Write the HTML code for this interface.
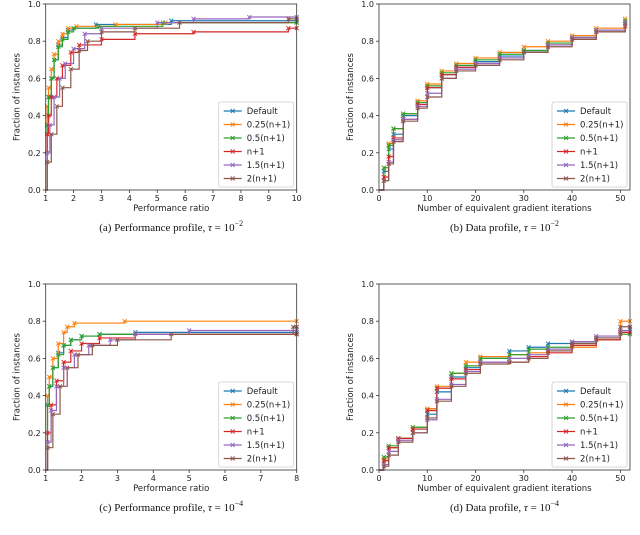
<!DOCTYPE html>
<html><head><meta charset="utf-8"><style>
body{margin:0;background:#fff;}
svg{display:block;font-family:"DejaVu Sans","Liberation Sans",sans-serif;}
.cap{font-family:"Liberation Serif",serif;font-size:11px;}
</style></head><body>
<svg id="s" width="640" height="535" viewBox="0 0 640 535"></svg>
<script>
const colors=["#1f77b4","#ff7f0e","#2ca02c","#d62728","#9467bd","#8c564b"];
const seriesNames=["Default","0.25(n+1)","0.5(n+1)","n+1","1.5(n+1)","2(n+1)"];
// Panel a: performance profile tau=1e-2 (x ratio, y fraction)
const aX=[[1,1.05,1.1,1.2,1.3,1.45,1.6,1.8,2,2.8,5.5,10],[1,1.05,1.1,1.2,1.3,1.45,1.6,1.8,2.1,3.5,5.3,10],[1,1.05,1.1,1.2,1.3,1.45,1.6,1.8,2,2.9,5.2,10],[1,1.05,1.1,1.2,1.4,1.6,1.9,2.2,3,4.2,6.3,9.7,10],[1,1.05,1.15,1.3,1.5,1.7,2,2.4,3,5,6.3,8.3,10],[1,1.05,1.2,1.4,1.6,1.9,2.2,2.5,3,4.2,5.8,9.7,10]];
const aY=[[0,0.35,0.5,0.6,0.7,0.78,0.82,0.86,0.87,0.89,0.91,0.91],[0,0.45,0.55,0.65,0.73,0.8,0.84,0.87,0.88,0.89,0.9,0.9],[0,0.35,0.5,0.6,0.7,0.77,0.81,0.85,0.87,0.88,0.9,0.9],[0,0.3,0.4,0.5,0.6,0.67,0.74,0.78,0.81,0.84,0.85,0.87,0.87],[0,0.2,0.35,0.5,0.6,0.68,0.76,0.84,0.87,0.9,0.92,0.93,0.93],[0,0.15,0.3,0.45,0.55,0.65,0.75,0.8,0.85,0.87,0.9,0.92,0.92]];
// Panel b: data profile tau=1e-2
const bX=[[0,1,2,3,5,8,10,13,16,20,25,30,35,40,45,51],[0,1,2,3,5,8,10,13,16,20,25,30,35,40,45,51],[0,1,2,3,5,8,10,13,16,20,25,30,35,40,45,51],[0,1,2,3,5,8,10,13,16,20,25,30,35,40,45,51],[0,1,2,3,5,8,10,13,16,20,25,30,35,40,45,51],[0,1,2,3,5,8,10,13,16,20,25,30,35,40,45,51]];
const bY=[[0,0.1,0.22,0.3,0.4,0.47,0.55,0.62,0.66,0.69,0.72,0.75,0.78,0.82,0.86,0.9],[0,0.12,0.25,0.33,0.41,0.48,0.57,0.64,0.68,0.71,0.74,0.77,0.8,0.83,0.87,0.92],[0,0.12,0.24,0.33,0.41,0.47,0.56,0.63,0.67,0.7,0.73,0.75,0.79,0.82,0.86,0.91],[0,0.07,0.18,0.28,0.38,0.46,0.55,0.62,0.66,0.68,0.71,0.74,0.78,0.81,0.85,0.88],[0,0.05,0.15,0.27,0.38,0.45,0.52,0.6,0.65,0.68,0.71,0.74,0.78,0.82,0.86,0.9],[0,0.05,0.14,0.26,0.37,0.44,0.5,0.6,0.64,0.67,0.7,0.74,0.77,0.81,0.85,0.89]];
// Panel c: performance profile tau=1e-4
const cX=[[1,1.05,1.1,1.2,1.35,1.5,1.7,2,2.5,3.5,8],[1,1.05,1.1,1.2,1.35,1.5,1.6,1.8,3.2,8],[1,1.05,1.1,1.2,1.35,1.5,1.7,2,2.5,8],[1,1.05,1.15,1.3,1.5,1.7,2,2.5,3.5,8],[1,1.05,1.15,1.3,1.5,1.8,2.2,2.8,3.5,5,8],[1,1.05,1.2,1.4,1.6,1.9,2.3,3,4.5,7.9,8]];
const cY=[[0,0.35,0.45,0.55,0.63,0.67,0.7,0.72,0.73,0.74,0.74],[0,0.4,0.5,0.6,0.68,0.74,0.77,0.79,0.8,0.8],[0,0.35,0.45,0.55,0.62,0.67,0.7,0.72,0.73,0.73],[0,0.2,0.35,0.48,0.58,0.64,0.68,0.71,0.73,0.73],[0,0.15,0.32,0.45,0.55,0.62,0.67,0.7,0.73,0.75,0.76],[0,0.12,0.3,0.45,0.55,0.62,0.67,0.7,0.73,0.77,0.77]];
// Panel d: data profile tau=1e-4
const dX=[[0,1,2,4,7,10,12,15,18,21,27,31,35,40,45,50,52],[0,1,2,4,7,10,12,15,18,21,27,31,35,40,45,50,52],[0,1,2,4,7,10,12,15,18,21,27,31,35,40,45,50,52],[0,1,2,4,7,10,12,15,18,21,27,31,35,40,45,50,52],[0,1,2,4,7,10,12,15,18,21,27,31,35,40,45,50,52],[0,1,2,4,7,10,12,15,18,21,27,31,35,40,45,50,52]];
const dY=[[0,0.05,0.12,0.17,0.22,0.3,0.42,0.5,0.55,0.6,0.64,0.66,0.68,0.69,0.71,0.74,0.76],[0,0.06,0.12,0.17,0.23,0.33,0.45,0.52,0.58,0.61,0.62,0.63,0.64,0.66,0.7,0.8,0.8],[0,0.07,0.13,0.17,0.23,0.32,0.44,0.52,0.56,0.6,0.62,0.65,0.66,0.68,0.7,0.73,0.73],[0,0.05,0.12,0.17,0.22,0.32,0.44,0.49,0.54,0.58,0.58,0.61,0.63,0.67,0.7,0.74,0.74],[0,0.03,0.1,0.16,0.2,0.27,0.38,0.46,0.53,0.58,0.6,0.62,0.65,0.69,0.72,0.75,0.77],[0,0.02,0.08,0.15,0.2,0.28,0.37,0.45,0.52,0.57,0.58,0.6,0.64,0.68,0.71,0.77,0.77]];
const yTicks=["0.0","0.2","0.4","0.6","0.8","1.0"];
const aTicks=[1,2,3,4,5,6,7,8,9,10];
const cTicks=[1,2,3,4,5,6,7,8];
const dTicks=[0,10,20,30,40,50];

const NS="http://www.w3.org/2000/svg";
const svg=document.getElementById('s');
function mk(t,a,p){const e=document.createElementNS(NS,t);for(const k in a)e.setAttribute(k,a[k]);(p||svg).appendChild(e);return e;}
function txt(s,a,p){const e=mk('text',a,p);e.textContent=s;return e;}

function panel(key,L,R,T,B,xmin,xmax,xt,xs,ys,xlabel,caption){
  const g=mk('g',{});
  
  
  const sx=v=>L+(v-xmin)/(xmax-xmin)*(R-L);
  const sy=v=>B-v*(B-T);
  xs.forEach((X,i)=>{
    const Y=ys[i];
    let d='M'+sx(X[0])+','+sy(Y[0]);
    for(let j=1;j<X.length;j++){d+=' H'+sx(X[j])+' V'+sy(Y[j]);}
    const p=mk('path',{d:d,fill:'none',stroke:colors[i],'stroke-width':1.2},g);
    
    
    for(let j=1;j<X.length;j++){
      const cx=sx(X[j]),cy=sy(Y[j]);
      const m=mk('path',{d:`M${cx-2},${cy-2}L${cx+2},${cy+2}M${cx-2},${cy+2}L${cx+2},${cy-2}`,stroke:colors[i],'stroke-width':0.9},g);
      
      
    }
  });
  const fr=mk('rect',{x:L,y:T,width:R-L,height:B-T,fill:'none',stroke:'#333','stroke-width':0.8},g);
  
  
  yTicks.forEach((t,i)=>{const y=sy(i*0.2);mk('line',{x1:L-3,x2:L,y1:y,y2:y,stroke:'#333','stroke-width':0.8},g);
    const e=txt(t,{x:L-5,y:y+3,'font-size':8,'text-anchor':'end',fill:'#222'},g);
    });
  xt.forEach(t=>{const x=sx(t);mk('line',{x1:x,x2:x,y1:B,y2:B+3,stroke:'#333','stroke-width':0.8},g);
    const e=txt(String(t),{x:x,y:B+11,'font-size':8,'text-anchor':'middle',fill:'#222'},g);
    });
  const yl=txt('Fraction of instances',{x:0,y:0,'font-size':8.5,'text-anchor':'middle',fill:'#222',transform:`translate(${L-26},${(T+B)/2}) rotate(-90)`},g);
  
  const xl=txt(xlabel,{x:(L+R)/2,y:B+21,'font-size':8.5,'text-anchor':'middle',fill:'#222'},g);
  
  const cap=mk('text',{x:(L+R)/2,y:B+41,'text-anchor':'middle','class':'cap',fill:'#111'},g);
  cap.innerHTML=caption;
  
  const lx=R-78,ly=B-88;
  const lg=mk('g',{},g);
  
  mk('rect',{x:lx,y:ly,width:75,height:85,rx:2,fill:'#fff',stroke:'#ccc','stroke-width':0.8},lg);
  seriesNames.forEach((n,i)=>{const y=ly+9+i*13.5;
    mk('line',{x1:lx+5,x2:lx+23,y1:y,y2:y,stroke:colors[i],'stroke-width':1.2},lg);
    mk('path',{d:`M${lx+12},${y-2}L${lx+16},${y+2}M${lx+12},${y+2}L${lx+16},${y-2}`,stroke:colors[i],'stroke-width':0.9},lg);
    const e=txt(n,{x:lx+28,y:y+3,'font-size':8.5,fill:'#222'},lg);
    });
}
panel('a',45.7,296.7,4,190,1,10,aTicks,aX,aY,'Performance ratio','(a) Performance profile, <tspan font-style="italic">τ</tspan> = 10<tspan dy="-5" font-size="8">−2</tspan>');
panel('b',379,630,4,190,0,52,dTicks,bX,bY,'Number of equivalent gradient iterations','(b) Data profile, <tspan font-style="italic">τ</tspan> = 10<tspan dy="-5" font-size="8">−2</tspan>');
panel('c',45.7,296.7,284,470,1,8,cTicks,cX,cY,'Performance ratio','(c) Performance profile, <tspan font-style="italic">τ</tspan> = 10<tspan dy="-5" font-size="8">−4</tspan>');
panel('d',379,630,284,470,0,52,dTicks,dX,dY,'Number of equivalent gradient iterations','(d) Data profile, <tspan font-style="italic">τ</tspan> = 10<tspan dy="-5" font-size="8">−4</tspan>');
</script>
</body></html>
